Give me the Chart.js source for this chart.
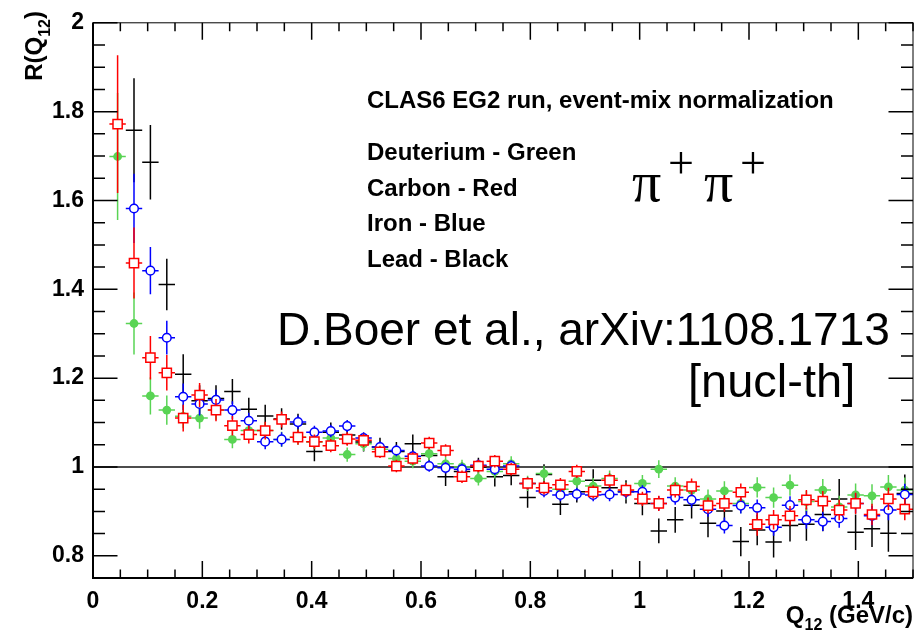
<!DOCTYPE html>
<html>
<head>
<meta charset="utf-8">
<script src="https://cdn.jsdelivr.net/npm/chart.js@4.4.0/dist/chart.umd.min.js"></script>
<style>
  html, body { margin: 0; padding: 0; background: #fff; }
  #wrap { width: 923px; height: 630px; }
</style>
</head>
<body>
<div id="wrap"><canvas id="ratioChart" width="923" height="630"></canvas></div>
<script>
// Q12 bin centres (GeV/c), bin width 0.03
const q12 = [0.045, 0.075, 0.105, 0.135, 0.165, 0.195, 0.225, 0.255, 0.285, 0.315,
  0.345, 0.375, 0.405, 0.435, 0.465, 0.495, 0.525, 0.555, 0.585, 0.615,
  0.645, 0.675, 0.705, 0.735, 0.765, 0.795, 0.825, 0.855, 0.885, 0.915,
  0.945, 0.975, 1.005, 1.035, 1.065, 1.095, 1.125, 1.155, 1.185, 1.215,
  1.245, 1.275, 1.305, 1.335, 1.365, 1.395, 1.425, 1.455, 1.485];
const halfBin = 0.015;

const xTickValues = [0, 0.2, 0.4, 0.6, 0.8, 1.0, 1.2, 1.4];
const yTickValues = [0.8, 1.0, 1.2, 1.4, 1.6, 1.8, 2.0];

// R(Q12) per target
const deuterium = [1.699, 1.323, 1.160, 1.128, 1.114, 1.110, 1.128, 1.062, 1.082, 1.082,
  1.062, 1.067, 1.056, 1.065, 1.028, 1.052, 1.040, 1.019, 1.013, 1.030,
  1.007, 1.000, 0.974, 0.990, 1.007, 0.963, 0.985, 0.950, 0.968, 0.957,
  0.974, 0.946, 0.963, 0.995, 0.957, 0.948, 0.928, 0.946, 0.918, 0.954,
  0.931, 0.959, 0.922, 0.948, 0.910, 0.937, 0.935, 0.955, 0.948];
const deuteriumErr = [0.143, 0.070, 0.042, 0.033, 0.027, 0.024, 0.022, 0.020, 0.019, 0.018,
  0.017, 0.017, 0.016, 0.016, 0.016, 0.016, 0.016, 0.016, 0.016, 0.016,
  0.016, 0.016, 0.016, 0.016, 0.017, 0.017, 0.017, 0.017, 0.018, 0.018,
  0.018, 0.019, 0.019, 0.020, 0.020, 0.021, 0.021, 0.022, 0.022, 0.023,
  0.023, 0.024, 0.024, 0.025, 0.025, 0.026, 0.026, 0.027, 0.028];

const carbon = [1.772, 1.459, 1.246, 1.212, 1.110, 1.162, 1.128, 1.093, 1.073, 1.082,
  1.107, 1.067, 1.057, 1.048, 1.063, 1.060, 1.034, 1.002, 1.019, 1.054,
  1.037, 0.978, 1.002, 1.013, 0.995, 0.963, 0.953, 0.960, 0.990, 0.944,
  0.970, 0.948, 0.928, 0.918, 0.948, 0.956, 0.913, 0.918, 0.943, 0.871,
  0.881, 0.890, 0.926, 0.923, 0.903, 0.918, 0.893, 0.928, 0.905];
const carbonErr = [0.155, 0.080, 0.049, 0.040, 0.030, 0.027, 0.025, 0.022, 0.020, 0.020,
  0.018, 0.017, 0.016, 0.015, 0.015, 0.015, 0.014, 0.014, 0.014, 0.014,
  0.014, 0.014, 0.014, 0.014, 0.014, 0.014, 0.015, 0.015, 0.015, 0.015,
  0.016, 0.016, 0.016, 0.017, 0.017, 0.018, 0.018, 0.019, 0.020, 0.026,
  0.022, 0.022, 0.022, 0.023, 0.023, 0.024, 0.024, 0.025, 0.025];

const iron = [null, 1.582, 1.442, 1.291, 1.158, 1.142, 1.151, 1.128, 1.104, 1.057,
  1.062, 1.101, 1.078, 1.081, 1.092, 1.065, 1.045, 1.037, 1.024, 1.002,
  0.998, 0.995, 1.004, 0.995, 1.002, 0.963, 0.946, 0.937, 0.939, 0.937,
  0.938, 0.944, 0.944, 0.918, 0.931, 0.926, 0.905, 0.868, 0.913, 0.908,
  0.864, 0.914, 0.881, 0.877, 0.884, 0.918, 0.890, 0.903, 0.938];
const ironErr = [null, 0.078, 0.053, 0.038, 0.030, 0.026, 0.023, 0.020, 0.018, 0.017,
  0.016, 0.015, 0.015, 0.014, 0.014, 0.013, 0.013, 0.013, 0.013, 0.013,
  0.013, 0.013, 0.013, 0.013, 0.013, 0.013, 0.014, 0.014, 0.014, 0.014,
  0.015, 0.015, 0.015, 0.016, 0.016, 0.017, 0.017, 0.018, 0.018, 0.019,
  0.019, 0.020, 0.020, 0.021, 0.021, 0.022, 0.022, 0.023, 0.024];

const lead = [null, 1.758, 1.686, 1.411, 1.209, 1.149, 1.154, 1.170, 1.130, 1.115,
  1.108, 1.097, 1.035, 1.078, 1.072, 1.056, 1.045, 1.035, 1.052, 1.026,
  0.978, 0.990, 1.000, 0.978, 0.981, 0.931, 0.983, 0.916, 0.944, 0.970,
  0.953, 0.944, 0.918, 0.856, 0.881, 0.914, 0.873, 0.901, 0.832, 0.858,
  0.831, 0.868, 0.871, 0.893, 0.928, 0.853, 0.861, 0.851, 0.940];
const leadErr = [null, 0.117, 0.084, 0.058, 0.045, 0.035, 0.030, 0.028, 0.026, 0.025,
  0.024, 0.023, 0.022, 0.022, 0.022, 0.021, 0.021, 0.021, 0.021, 0.021,
  0.021, 0.021, 0.021, 0.022, 0.022, 0.023, 0.023, 0.024, 0.024, 0.025,
  0.025, 0.026, 0.027, 0.028, 0.029, 0.030, 0.031, 0.032, 0.033, 0.034,
  0.035, 0.036, 0.037, 0.038, 0.045, 0.040, 0.041, 0.042, 0.043];

const GREEN = '#59d454';

function points(vals, errs) {
  const out = [];
  vals.forEach((v, i) => { if (v != null) out.push({ x: q12[i], y: v, e: errs[i] }); });
  return out;
}

// x and y error bars, drawn just under each dataset's markers
const errorBars = {
  id: 'errorBars',
  beforeDatasetDraw(chart, args) {
    const ds = chart.data.datasets[args.index];
    if (!ds.barColor) return;
    const { ctx, chartArea: a, scales: { x, y } } = chart;
    ctx.save();
    ctx.beginPath();
    ctx.rect(a.left, a.top, a.right - a.left, a.bottom - a.top);
    ctx.clip();
    ctx.strokeStyle = ds.barColor;
    ctx.lineWidth = 1.5;
    ctx.beginPath();
    ds.data.forEach(p => {
      const px = x.getPixelForValue(p.x);
      const py = y.getPixelForValue(p.y);
      ctx.moveTo(px, y.getPixelForValue(p.y + p.e));
      ctx.lineTo(px, y.getPixelForValue(p.y - p.e));
      ctx.moveTo(x.getPixelForValue(p.x - halfBin), py);
      ctx.lineTo(x.getPixelForValue(p.x + halfBin), py);
    });
    ctx.stroke();
    ctx.restore();
  }
};

function drawRuns(ctx, runs, x, y, align) {
  let total = 0;
  runs.forEach(r => { ctx.font = r[1]; total += ctx.measureText(r[0]).width; });
  let cx = align === 'right' ? x - total : x;
  runs.forEach(r => {
    ctx.font = r[1];
    ctx.fillText(r[0], cx, y + r[2]);
    cx += ctx.measureText(r[0]).width;
  });
}

// frame with inward ticks on all four sides, axis titles and annotations
const frameAndText = {
  id: 'frameAndText',
  afterDraw(chart) {
    const { ctx, chartArea: a, scales: { x, y } } = chart;
    ctx.save();
    ctx.strokeStyle = '#000';
    ctx.lineWidth = 1;
    ctx.strokeRect(a.left, a.top, a.right - a.left, a.bottom - a.top);
    ctx.lineWidth = 2;
    ctx.beginPath();
    ctx.moveTo(a.left, a.top); ctx.lineTo(a.left, a.bottom); ctx.lineTo(a.right, a.bottom);
    ctx.stroke();

    ctx.lineWidth = 1.5;
    ctx.beginPath();
    for (let i = 0; i <= 30; i++) {
      const v = i * 0.05;
      const px = x.getPixelForValue(v);
      const len = (i % 4 === 0) ? 17 : 8.5;
      ctx.moveTo(px, a.bottom); ctx.lineTo(px, a.bottom - len);
      ctx.moveTo(px, a.top); ctx.lineTo(px, a.top + len);
    }
    for (let i = 15; i <= 40; i++) {
      const v = i * 0.05;
      const py = y.getPixelForValue(v);
      const len = (i % 4 === 0) ? 24.5 : 12;
      ctx.moveTo(a.left, py); ctx.lineTo(a.left + len, py);
      ctx.moveTo(a.right, py); ctx.lineTo(a.right - len, py);
    }
    ctx.stroke();

    ctx.fillStyle = '#000';
    ctx.textBaseline = 'alphabetic';
    ctx.textAlign = 'left';
    const bold = s => 'bold ' + s + 'px "Liberation Sans"';

    // axis titles
    drawRuns(ctx, [['Q', bold(24), 0], ['12', bold(16), 7], [' (GeV/c)', bold(24), 0]], a.right, 623, 'right');
    ctx.save();
    ctx.translate(42, 11);
    ctx.rotate(-Math.PI / 2);
    drawRuns(ctx, [['R(Q', bold(24), 0], ['12', bold(16), 8], [')', bold(24), 0]], 0, 0, 'right');
    ctx.restore();

    // run description and target legend
    ctx.font = bold(24);
    ctx.fillText('CLAS6 EG2 run, event-mix normalization', 367, 108);
    ctx.fillText('Deuterium - Green', 367, 160);
    ctx.fillText('Carbon - Red', 367, 196);
    ctx.fillText('Iron - Blue', 367, 231);
    ctx.fillText('Lead - Black', 367, 267);

    // pi+ pi+ label
    ctx.font = '58px "Liberation Serif"';
    ctx.fillText('\u03c0', 632, 201);
    ctx.fillText('\u03c0', 704, 201);
    ctx.font = '46px "Liberation Serif"';
    ctx.fillText('+', 668, 178);
    ctx.fillText('+', 740, 178);

    ctx.font = '46px "Liberation Sans"';
    ctx.fillText('D.Boer et al., arXiv:1108.1713', 277, 345);
    ctx.font = '47px "Liberation Sans"';
    ctx.fillText('[nucl-th]', 688, 397);
    ctx.restore();
  }
};

const fmt = v => String(+Number(v).toFixed(1));

new Chart(document.getElementById('ratioChart'), {
  type: 'scatter',
  data: {
    datasets: [
      {
        label: 'Carbon', data: points(carbon, carbonErr), order: 0, barColor: '#ff0000',
        pointStyle: 'rect', pointRadius: 6.5, borderColor: '#ff0000', backgroundColor: '#ffffff', borderWidth: 1.5
      },
      {
        label: 'Iron', data: points(iron, ironErr), order: 1, barColor: '#0000ff',
        pointStyle: 'circle', pointRadius: 4.3, borderColor: '#0000ff', backgroundColor: '#ffffff', borderWidth: 1.5
      },
      {
        label: 'Deuterium', data: points(deuterium, deuteriumErr), order: 2, barColor: GREEN,
        pointStyle: 'circle', pointRadius: 4.4, borderColor: GREEN, backgroundColor: GREEN, borderWidth: 0
      },
      {
        label: 'Lead', data: points(lead, leadErr), order: 3, barColor: '#000000',
        pointRadius: 0
      },
      {
        type: 'line', label: 'unity', data: [{ x: 0, y: 1 }, { x: 1.5, y: 1 }], order: 4,
        borderColor: '#111', borderWidth: 1.5, pointRadius: 0, fill: false
      }
    ]
  },
  options: {
    responsive: false,
    animation: false,
    events: [],
    layout: { padding: { top: 18, right: 10, left: 0, bottom: 0 } },
    plugins: { legend: { display: false }, tooltip: { enabled: false } },
    scales: {
      x: {
        type: 'linear', min: 0, max: 1.5,
        grid: { display: false, drawTicks: false },
        border: { display: false },
        afterBuildTicks: s => { s.ticks = xTickValues.map(v => ({ value: v })); },
        afterFit: s => { s.height = 52; },
        ticks: {
          autoSkip: false, maxRotation: 0, padding: 10, color: '#000',
          font: { family: 'Liberation Sans', weight: 'bold', size: 23 },
          callback: fmt
        }
      },
      y: {
        type: 'linear', min: 0.75, max: 2,
        grid: { display: false, drawTicks: false },
        border: { display: false },
        afterBuildTicks: s => { s.ticks = yTickValues.map(v => ({ value: v })); },
        afterFit: s => { s.width = 93; },
        ticks: {
          autoSkip: false, padding: 9, color: '#000',
          font: { family: 'Liberation Sans', weight: 'bold', size: 23 },
          callback: fmt
        }
      }
    }
  },
  plugins: [errorBars, frameAndText]
});
</script>
</body>
</html>
